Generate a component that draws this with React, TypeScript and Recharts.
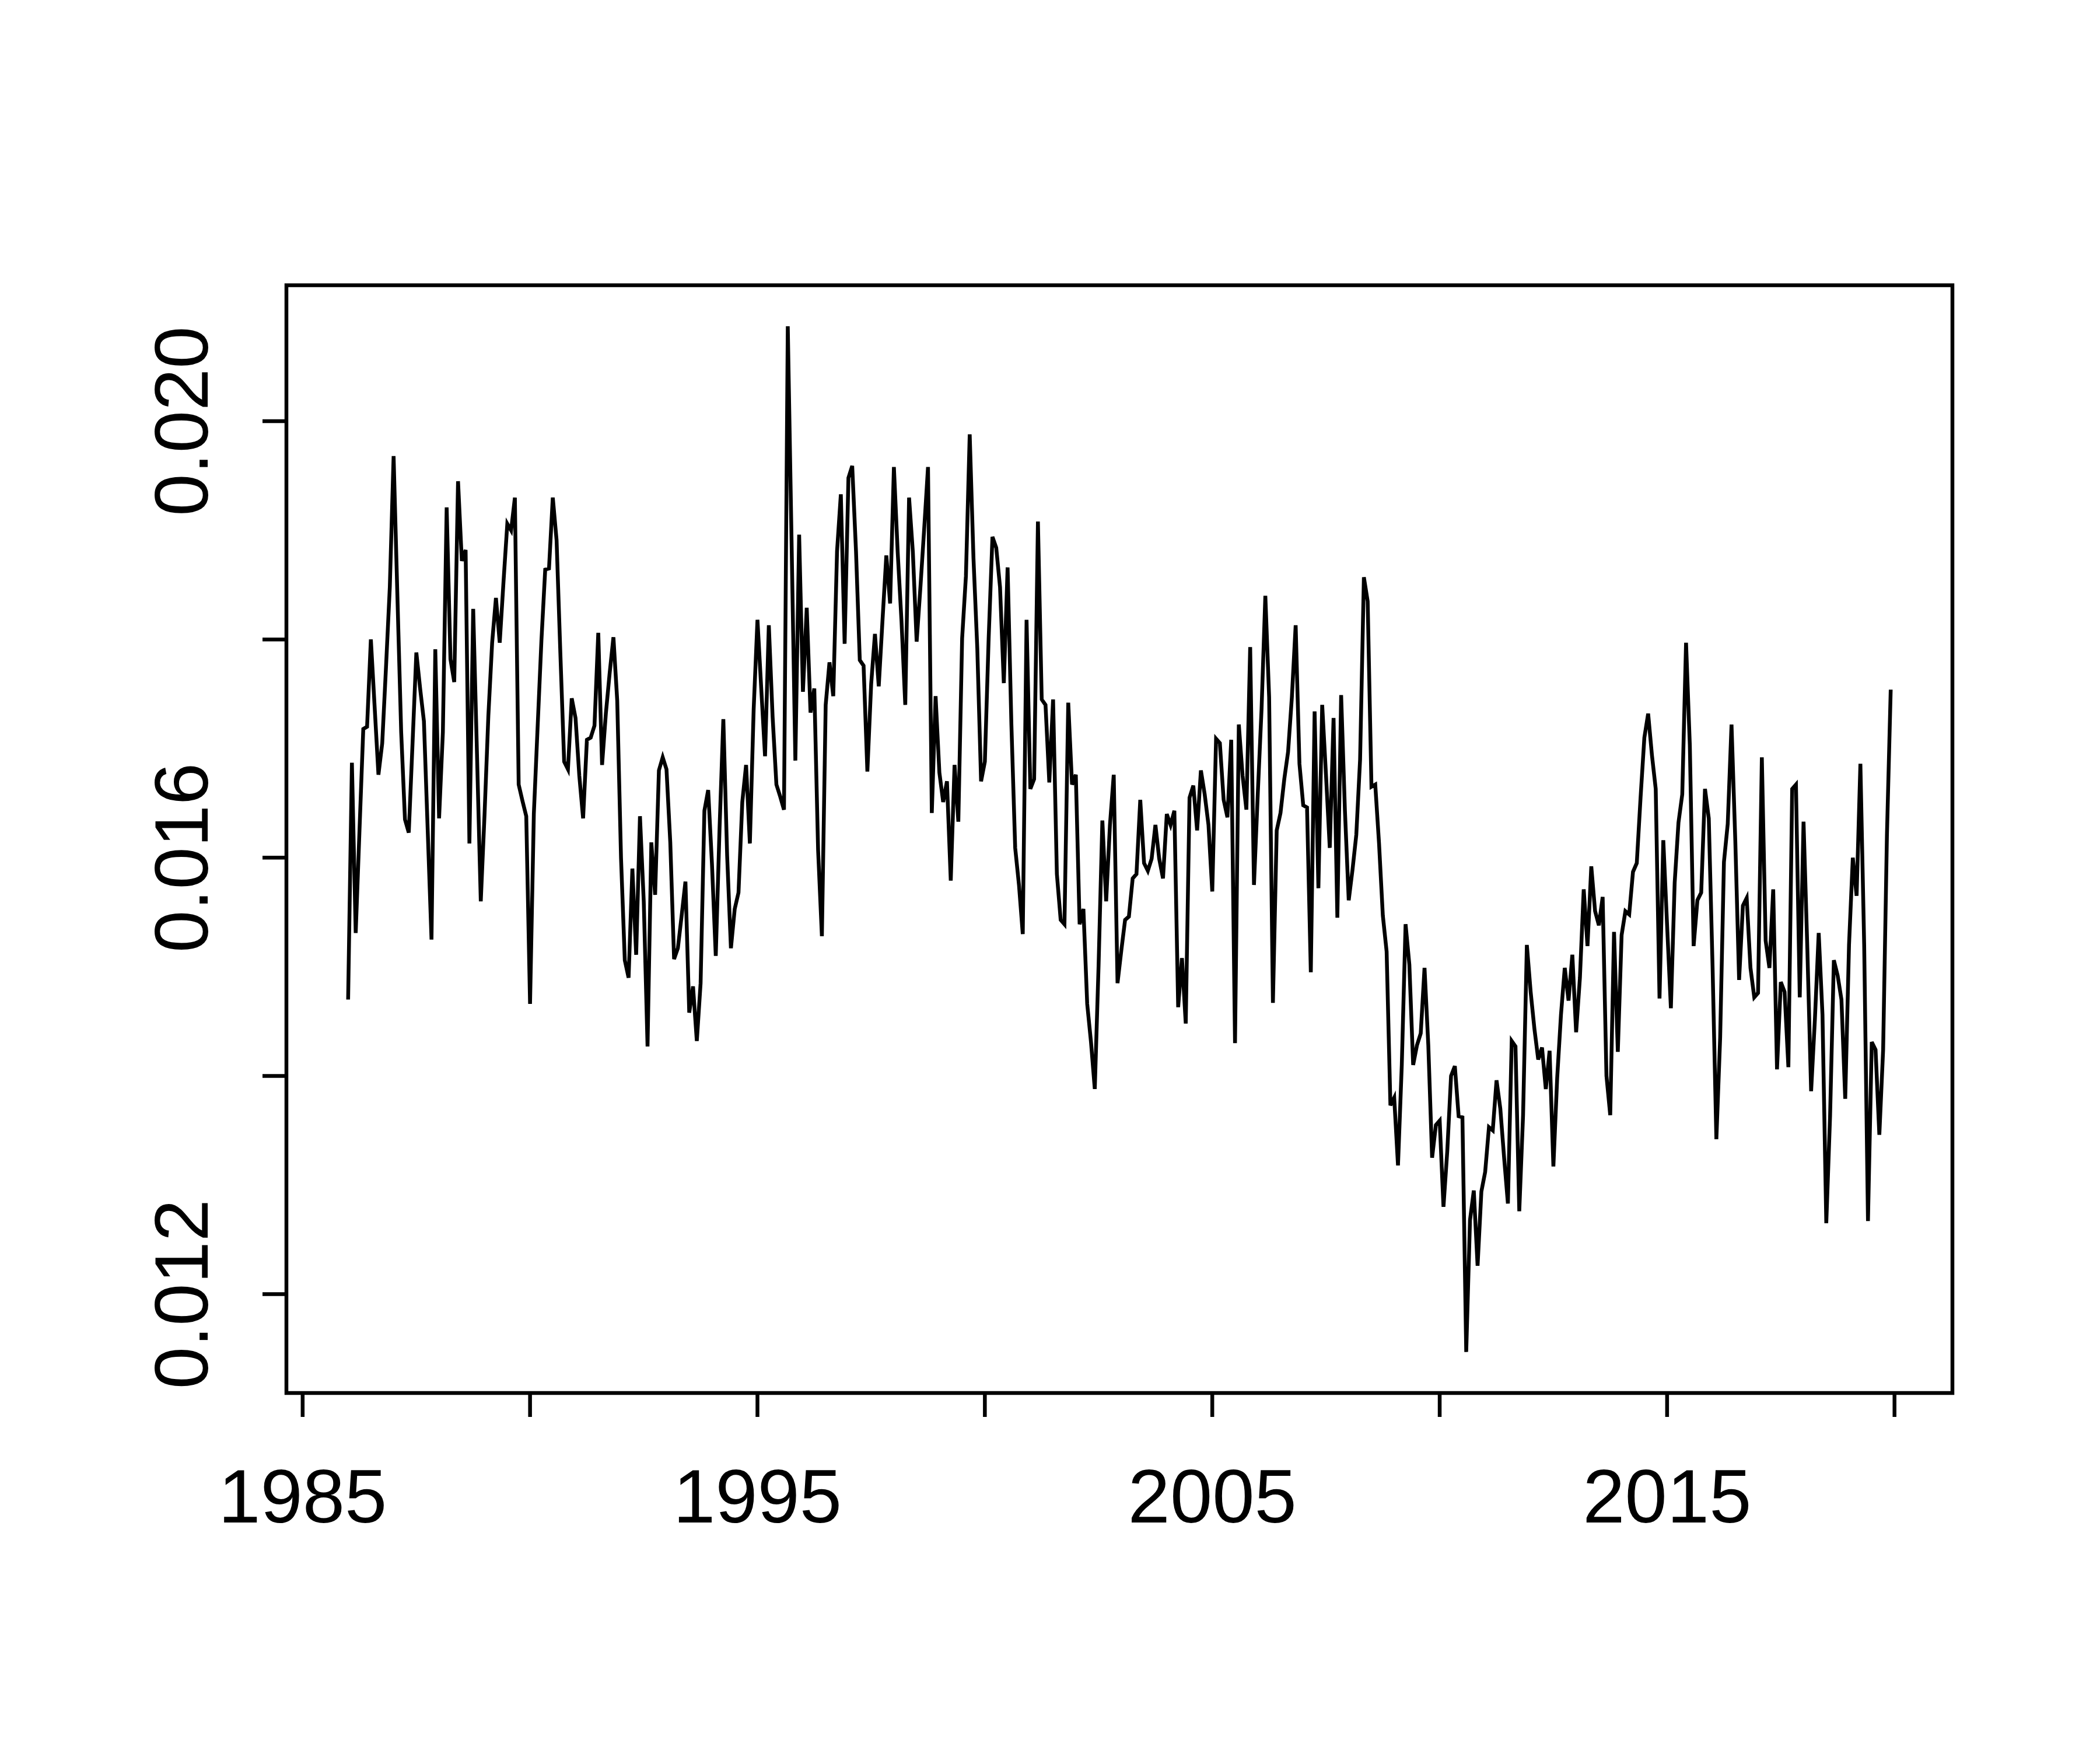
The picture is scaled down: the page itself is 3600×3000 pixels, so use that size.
import { LineChart, Line, XAxis, YAxis, ReferenceArea } from 'recharts';

// monthly series, Jan 1986 - Dec 2019
const START_YEAR = 1986;
const FREQ = 12;

const r1986to1988 = [
  0.01470, 0.01687, 0.01531, 0.01625, 0.01718, 0.01720, 0.01800, 0.01738, 0.01676, 0.01705, 0.01775, 0.01848,
  0.01968, 0.01840, 0.01715, 0.01635, 0.01623, 0.01705, 0.01788, 0.01755, 0.01725, 0.01625, 0.01525, 0.01791,
  0.01636, 0.01715, 0.01921, 0.01782, 0.01761, 0.01945, 0.01872, 0.01882, 0.01613, 0.01828, 0.01695, 0.01560,
];
const r1989to1991 = [
  0.01640, 0.01730, 0.01797, 0.01838, 0.01797, 0.01853, 0.01906, 0.01900, 0.01930, 0.01667, 0.01652, 0.01638,
  0.01466, 0.01640, 0.01720, 0.01799, 0.01864, 0.01865, 0.01930, 0.01891, 0.01787, 0.01688, 0.01681, 0.01746,
  0.01728, 0.01675, 0.01636, 0.01708, 0.01710, 0.01721, 0.01806, 0.01685, 0.01732, 0.01769, 0.01802, 0.01744,
];
const r1992to1994 = [
  0.01600, 0.01506, 0.01490, 0.01590, 0.01511, 0.01638, 0.01560, 0.01427, 0.01614, 0.01566, 0.01680, 0.01692,
  0.01681, 0.01614, 0.01507, 0.01517, 0.01547, 0.01578, 0.01458, 0.01482, 0.01432, 0.01485, 0.01643, 0.01662,
  0.01594, 0.01510, 0.01627, 0.01727, 0.01602, 0.01517, 0.01553, 0.01568, 0.01651, 0.01685, 0.01613, 0.01736,
];
const r1995to1997 = [
  0.01818, 0.01755, 0.01693, 0.01813, 0.01729, 0.01667, 0.01656, 0.01644, 0.02087, 0.01890, 0.01689, 0.01896,
  0.01752, 0.01829, 0.01733, 0.01755, 0.01607, 0.01528, 0.01740, 0.01779, 0.01748, 0.01881, 0.01933, 0.01796,
  0.01948, 0.01959, 0.01881, 0.01781, 0.01776, 0.01679, 0.01759, 0.01805, 0.01757, 0.01818, 0.01877, 0.01833,
];
const r1998to2000 = [
  0.01958, 0.01880, 0.01817, 0.01740, 0.01930, 0.01880, 0.01798, 0.01848, 0.01902, 0.01958, 0.01641, 0.01748,
  0.01678, 0.01651, 0.01670, 0.01579, 0.01685, 0.01633, 0.01801, 0.01858, 0.01988, 0.01874, 0.01792, 0.01670,
  0.01688, 0.01801, 0.01894, 0.01884, 0.01848, 0.01760, 0.01866, 0.01722, 0.01609, 0.01575, 0.01530, 0.01818,
];
const r2001to2003 = [
  0.01663, 0.01672, 0.01908, 0.01745, 0.01740, 0.01669, 0.01745, 0.01585, 0.01543, 0.01539, 0.01742, 0.01667,
  0.01676, 0.01539, 0.01553, 0.01466, 0.01431, 0.01388, 0.01501, 0.01634, 0.01560, 0.01630, 0.01676, 0.01485,
  0.01515, 0.01543, 0.01546, 0.01581, 0.01585, 0.01653, 0.01595, 0.01588, 0.01599, 0.01630, 0.01599, 0.01581,
];
const r2004to2006 = [
  0.01640, 0.01630, 0.01643, 0.01463, 0.01508, 0.01448, 0.01655, 0.01666, 0.01625, 0.01680, 0.01658, 0.01630,
  0.01569, 0.01709, 0.01705, 0.01653, 0.01637, 0.01708, 0.01430, 0.01722, 0.01675, 0.01644, 0.01793, 0.01575,
  0.01658, 0.01736, 0.01840, 0.01747, 0.01467, 0.01625, 0.01641, 0.01672, 0.01697, 0.01747, 0.01813, 0.01686,
];
const r2007to2009 = [
  0.01648, 0.01646, 0.01495, 0.01734, 0.01572, 0.01740, 0.01676, 0.01609, 0.01728, 0.01545, 0.01749, 0.01643,
  0.01561, 0.01589, 0.01621, 0.01690, 0.01857, 0.01835, 0.01665, 0.01667, 0.01613, 0.01547, 0.01514, 0.01373,
  0.01380, 0.01318, 0.01410, 0.01539, 0.01502, 0.01410, 0.01428, 0.01439, 0.01499, 0.01428, 0.01325, 0.01355,
];
const r2010to2012 = [
  0.01359, 0.01280, 0.01331, 0.01400, 0.01409, 0.01363, 0.01362, 0.01147, 0.01268, 0.01295, 0.01226, 0.01294,
  0.01312, 0.01353, 0.01350, 0.01396, 0.01370, 0.01325, 0.01283, 0.01432, 0.01427, 0.01276, 0.01364, 0.01520,
  0.01477, 0.01443, 0.01415, 0.01426, 0.01388, 0.01423, 0.01317, 0.01398, 0.01456, 0.01499, 0.01469, 0.01511,
];
const r2013to2015 = [
  0.01440, 0.01490, 0.01571, 0.01519, 0.01592, 0.01551, 0.01538, 0.01564, 0.01400, 0.01364, 0.01532, 0.01422,
  0.01529, 0.01551, 0.01548, 0.01587, 0.01595, 0.01655, 0.01710, 0.01732, 0.01694, 0.01663, 0.01471, 0.01616,
  0.01538, 0.01462, 0.01577, 0.01632, 0.01658, 0.01797, 0.01703, 0.01519, 0.01561, 0.01568, 0.01663, 0.01636,
];
const r2016to2018 = [
  0.01500, 0.01342, 0.01435, 0.01596, 0.01631, 0.01722, 0.01615, 0.01488, 0.01556, 0.01563, 0.01499, 0.01472,
  0.01476, 0.01692, 0.01524, 0.01499, 0.01571, 0.01406, 0.01486, 0.01477, 0.01408, 0.01663, 0.01667, 0.01472,
  0.01633, 0.01517, 0.01386, 0.01452, 0.01531, 0.01456, 0.01265, 0.01363, 0.01506, 0.01492, 0.01470, 0.01379,
];
const r2019 = [
  0.01520, 0.01600, 0.01565, 0.01686, 0.01520, 0.01267, 0.01431, 0.01424, 0.01346, 0.01424, 0.01620, 0.01754,
];

const xTicks = [1985, 1990, 1995, 2000, 2005, 2010, 2015, 2020];
const xLabels = [1985, 1995, 2005, 2015];
const yTicks = [0.012, 0.014, 0.016, 0.018, 0.02];
const yLabels = [0.012, 0.016, 0.02];

const values = [
  ...r1986to1988, ...r1989to1991, ...r1992to1994, ...r1995to1997,
  ...r1998to2000, ...r2001to2003, ...r2004to2006, ...r2007to2009,
  ...r2010to2012, ...r2013to2015, ...r2016to2018, ...r2019,
];
const data = values.map((v, i) => ({ t: START_YEAR + i / FREQ, v }));

// R style: extend ranges by 4%
const tMin = data[0].t;
const tMax = data[data.length - 1].t;
const tPad = (tMax - tMin) * 0.04;
const vMin = Math.min(...values);
const vMax = Math.max(...values);
const vPad = (vMax - vMin) * 0.04;
const xDomain: [number, number] = [tMin - tPad, tMax + tPad];
const yDomain: [number, number] = [vMin - vPad, vMax + vPad];

const FONT = 'Liberation Sans, Arial, Helvetica, sans-serif';
const FONT_SIZE = 130;
const LW = 6.5;
const TICK = 41;

function XTick(props: any) {
  const { x, y, payload } = props;
  return (
    <g>
      <line x1={x} y1={y} x2={x} y2={y + TICK} stroke="#000" strokeWidth={LW} />
      {xLabels.includes(payload.value) && (
        <text x={x} y={y + 222} textAnchor="middle" fontFamily={FONT} fontSize={FONT_SIZE} fill="#000">
          {payload.value}
        </text>
      )}
    </g>
  );
}

function YTick(props: any) {
  const { x, y, payload } = props;
  const show = yLabels.some((l) => Math.abs(l - payload.value) < 1e-9);
  const tx = x - 135;
  return (
    <g>
      <line x1={x} y1={y} x2={x - TICK} y2={y} stroke="#000" strokeWidth={LW} />
      {show && (
        <text
          x={tx}
          y={y}
          transform={`rotate(-90, ${tx}, ${y})`}
          textAnchor="middle"
          fontFamily={FONT}
          fontSize={FONT_SIZE}
          fill="#000"
        >
          {payload.value.toFixed(3)}
        </text>
      )}
    </g>
  );
}

export default function App() {
  return (
    <div style={{ position: 'absolute', left: 0, top: 0, width: 3600, height: 3000, background: '#fff' }}>
      <LineChart width={3600} height={3000} data={data} margin={{ top: 489, right: 253, bottom: 0, left: 0 }}>
        <XAxis
          type="number"
          dataKey="t"
          domain={xDomain}
          ticks={xTicks}
          interval={0}
          height={612}
          axisLine={false}
          tickLine={false}
          tickSize={0}
          tickMargin={0}
          tick={<XTick />}
          allowDataOverflow
        />
        <YAxis
          type="number"
          domain={yDomain}
          ticks={yTicks}
          interval={0}
          width={491}
          axisLine={false}
          tickLine={false}
          tickSize={0}
          tickMargin={0}
          tick={<YTick />}
          allowDataOverflow
        />
        <ReferenceArea
          x1={xDomain[0]}
          x2={xDomain[1]}
          y1={yDomain[0]}
          y2={yDomain[1]}
          fill="none"
          stroke="#000"
          strokeWidth={LW}
          ifOverflow="visible"
        />
        <Line
          type="linear"
          dataKey="v"
          stroke="#000"
          strokeWidth={LW}
          dot={false}
          isAnimationActive={false}
        />
      </LineChart>
    </div>
  );
}
